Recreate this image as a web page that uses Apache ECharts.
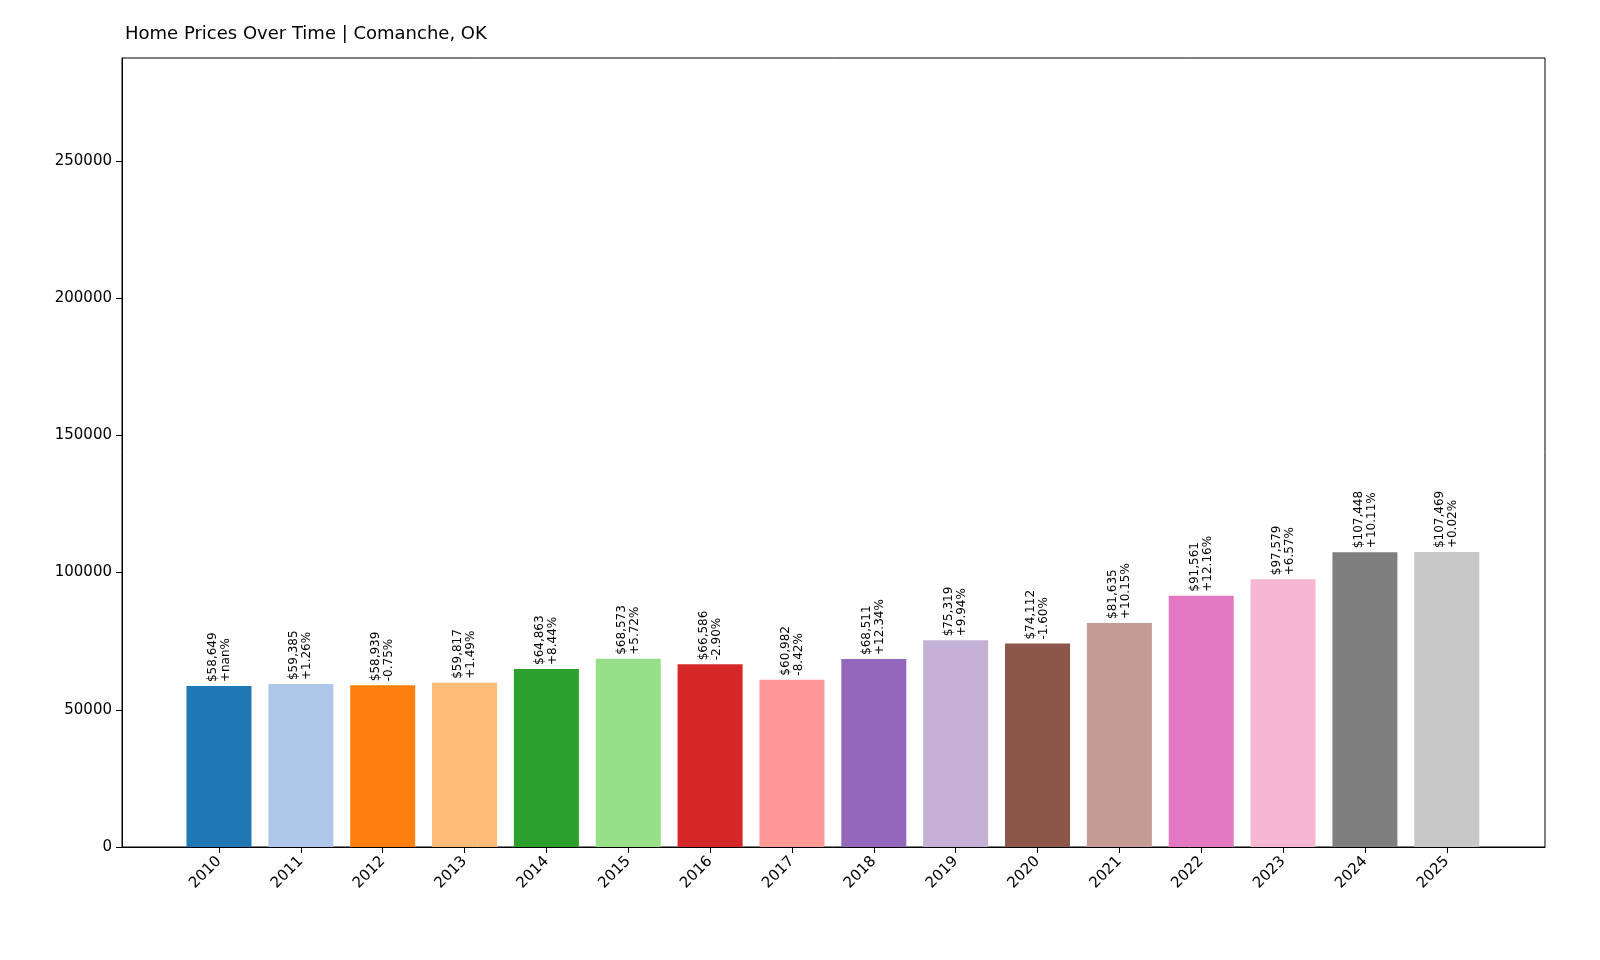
<!DOCTYPE html>
<html><head><meta charset="utf-8">
<script src="https://cdn.jsdelivr.net/npm/echarts@6/dist/echarts.min.js"></script>
<style>html,body{margin:0;padding:0;background:#fff}#c{width:1600px;height:960px}</style>
</head><body><div id="c"></div>
<script>
const years=['2010','2011','2012','2013','2014','2015','2016','2017','2018','2019','2020','2021','2022','2023','2024','2025'];
const prices=[58649,59385,58939,59817,64863,68573,66586,60982,68511,75319,74112,81635,91561,97579,107448,107469];
const changes=['+nan%','+1.26%','-0.75%','+1.49%','+8.44%','+5.72%','-2.90%','-8.42%','+12.34%','+9.94%','-1.60%','+10.15%','+12.16%','+6.57%','+10.11%','+0.02%'];
const colors=['#1f77b4','#aec7e8','#ff7f0e','#ffbb78','#2ca02c','#98df8a','#d62728','#ff9896','#9467bd','#c5b0d5','#8c564b','#c49c94','#e377c2','#f7b6d2','#7f7f7f','#c7c7c7'];
const idx=years.map((_,i)=>i);
const chart=echarts.init(document.getElementById('c'));
chart.setOption({
 animation:false,
 title:{text:'Home Prices Over Time | Comanche, OK',left:120,top:20,textStyle:{fontSize:18,fontWeight:'normal',color:'#000',fontFamily:'DejaVu Sans'}},
 grid:{left:122,right:55,top:58,bottom:113,show:true,borderColor:'#000',borderWidth:1},
 xAxis:{type:'value',min:-1.185,max:16.2,
  axisLine:{onZero:false,lineStyle:{color:'#000'}},splitLine:{show:false},
  axisTick:{customValues:idx,length:6,lineStyle:{color:'#000'}},
  axisLabel:{customValues:idx,formatter:v=>years[Math.round(v)]||'',rotate:45,fontSize:15,color:'#000',fontFamily:'DejaVu Sans',margin:12}},
 yAxis:{type:'value',min:0,max:287500,interval:50000,
  axisLine:{show:true,onZero:false,lineStyle:{color:'#000'}},splitLine:{show:false},
  axisTick:{show:true,length:6,lineStyle:{color:'#000'}},
  axisLabel:{fontSize:15,color:'#000',fontFamily:'DejaVu Sans',margin:10,showMaxLabel:false,formatter:v=>String(v)}},
 series:[{type:'bar',barWidth:65,
  data:prices.map((p,i)=>({value:[i,p],itemStyle:{color:colors[i]}})),
  label:{show:true,position:'top',rotate:90,align:'left',verticalAlign:'middle',distance:4,
   fontSize:12,lineHeight:13,color:'#000',fontFamily:'DejaVu Sans',
   formatter:p=>'$'+prices[p.dataIndex].toLocaleString('en-US')+'\n'+changes[p.dataIndex]}}]
});
</script></body></html>
